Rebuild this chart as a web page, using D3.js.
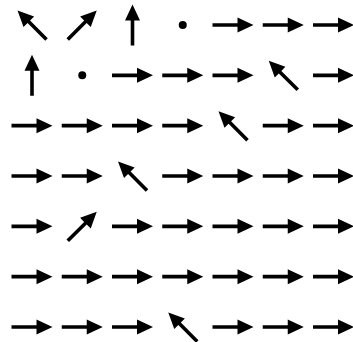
<!DOCTYPE html>
<html>
<head>
<meta charset="utf-8">
<script src="https://cdn.jsdelivr.net/npm/d3@7"></script>
<style>
  body { margin: 0; background: #fff; }
  svg { display: block; }
</style>
</head>
<body>
<svg id="chart" width="353" height="342"></svg>
<script>
// policy grid, one row per line (top to bottom)
const rows = [0, 1, 2, 3, 4, 5, 6];
const cols = [0, 1, 2, 3, 4, 5, 6];
const policy = [
  ["UL", "UR", "U", "0", "R", "R", "R"],
  ["U", "0", "R", "R", "R", "UL", "R"],
  ["R", "R", "R", "R", "UL", "R", "R"],
  ["R", "R", "UL", "R", "R", "R", "R"],
  ["R", "UR", "R", "R", "R", "R", "R"],
  ["R", "R", "R", "R", "R", "R", "R"],
  ["R", "R", "R", "UL", "R", "R", "R"]
];
// direction -> (u, v), v positive = up
const dirU = { R: 1, U: 0, UL: -1, UR: 1, "0": 0 };
const dirV = { R: 0, U: 1, UL: 1, UR: 1, "0": 0 };

const svg = d3.select("#chart");
const x = d3.scaleLinear().domain([0, 6]).range([32, 333.5]);
const y = d3.scaleLinear().domain([0, 6]).range([25, 327]);

const arrowLen = 41;
const shaftW = 3.6;
const headLen = 16;
const headW = 15;

// arrow pointing along +x, centred on origin
const h = arrowLen / 2;
const arrowPts = [
  [-h, -shaftW / 2],
  [h - headLen, -shaftW / 2],
  [h - headLen, -headW / 2],
  [h, 0],
  [h - headLen, headW / 2],
  [h - headLen, shaftW / 2],
  [-h, shaftW / 2]
];

const cells = [];
rows.forEach(r => cols.forEach(c => {
  const d = policy[r][c];
  cells.push({ r, c, u: dirU[d], v: dirV[d] });
}));

const g = svg.append("g");

g.selectAll("path.arrow")
  .data(cells.filter(d => d.u !== 0 || d.v !== 0))
  .enter()
  .append("path")
  .attr("class", "arrow")
  .attr("d", "M" + arrowPts.map(p => p.join(",")).join("L") + "Z")
  .attr("transform", d => {
    const ang = Math.atan2(-d.v, d.u) * 180 / Math.PI;
    return `translate(${x(d.c)},${y(d.r)}) rotate(${ang})`;
  })
  .attr("fill", "#000");

// zero vectors are drawn as a dot
g.selectAll("circle.dot")
  .data(cells.filter(d => d.u === 0 && d.v === 0))
  .enter()
  .append("circle")
  .attr("class", "dot")
  .attr("cx", d => x(d.c))
  .attr("cy", d => y(d.r))
  .attr("r", 4)
  .attr("fill", "#000");
</script>
</body>
</html>
